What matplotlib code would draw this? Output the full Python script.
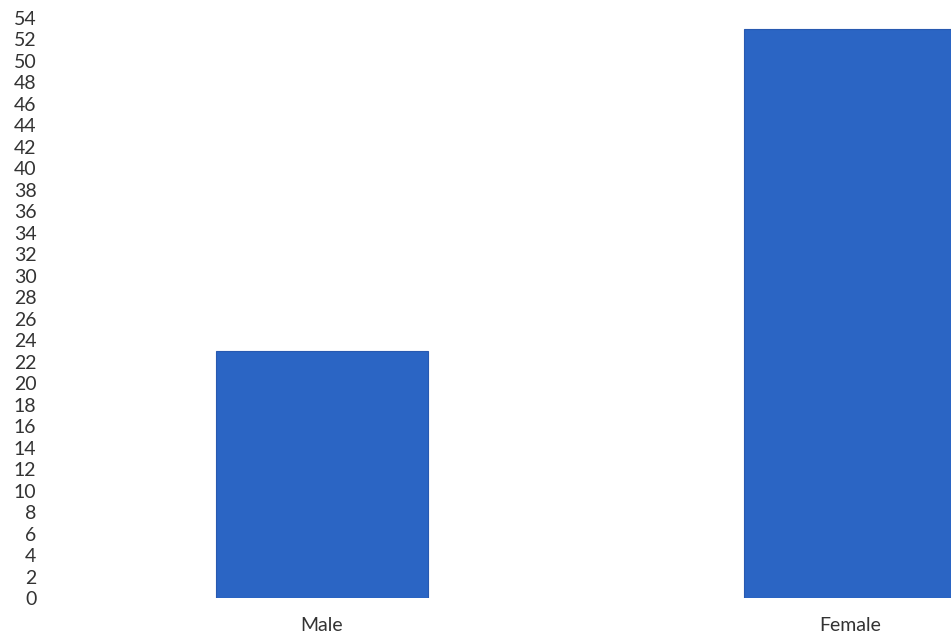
import matplotlib.pyplot as plt

categories = ["Male", "Female"]
counts = [23, 53]
y_ticks = list(range(0, 55, 2))

W, H = 951, 641
fig = plt.figure(figsize=(W / 100, H / 100), dpi=100)
ax = fig.add_axes([60 / W, (H - 598) / H, (W - 60) / W, (598 - 18) / H])

x = range(len(categories))
ax.bar(x, counts, width=0.40, color="#2b65c4", edgecolor="#2859b0", linewidth=0.8)

ax.set_xlim(-0.496, 1.191)
ax.set_ylim(0, 54)
ax.set_yticks(y_ticks)
ax.set_xticks(list(x))
ax.set_xticklabels(categories)

for s in ax.spines.values():
    s.set_visible(False)
ax.tick_params(axis="both", length=0, labelsize=14, labelcolor="#333333")
ax.tick_params(axis="y", pad=17)
ax.tick_params(axis="x", pad=14)
for lab in ax.get_xticklabels() + ax.get_yticklabels():
    lab.set_family("Lato")

fig.savefig("out.png", dpi=100)
